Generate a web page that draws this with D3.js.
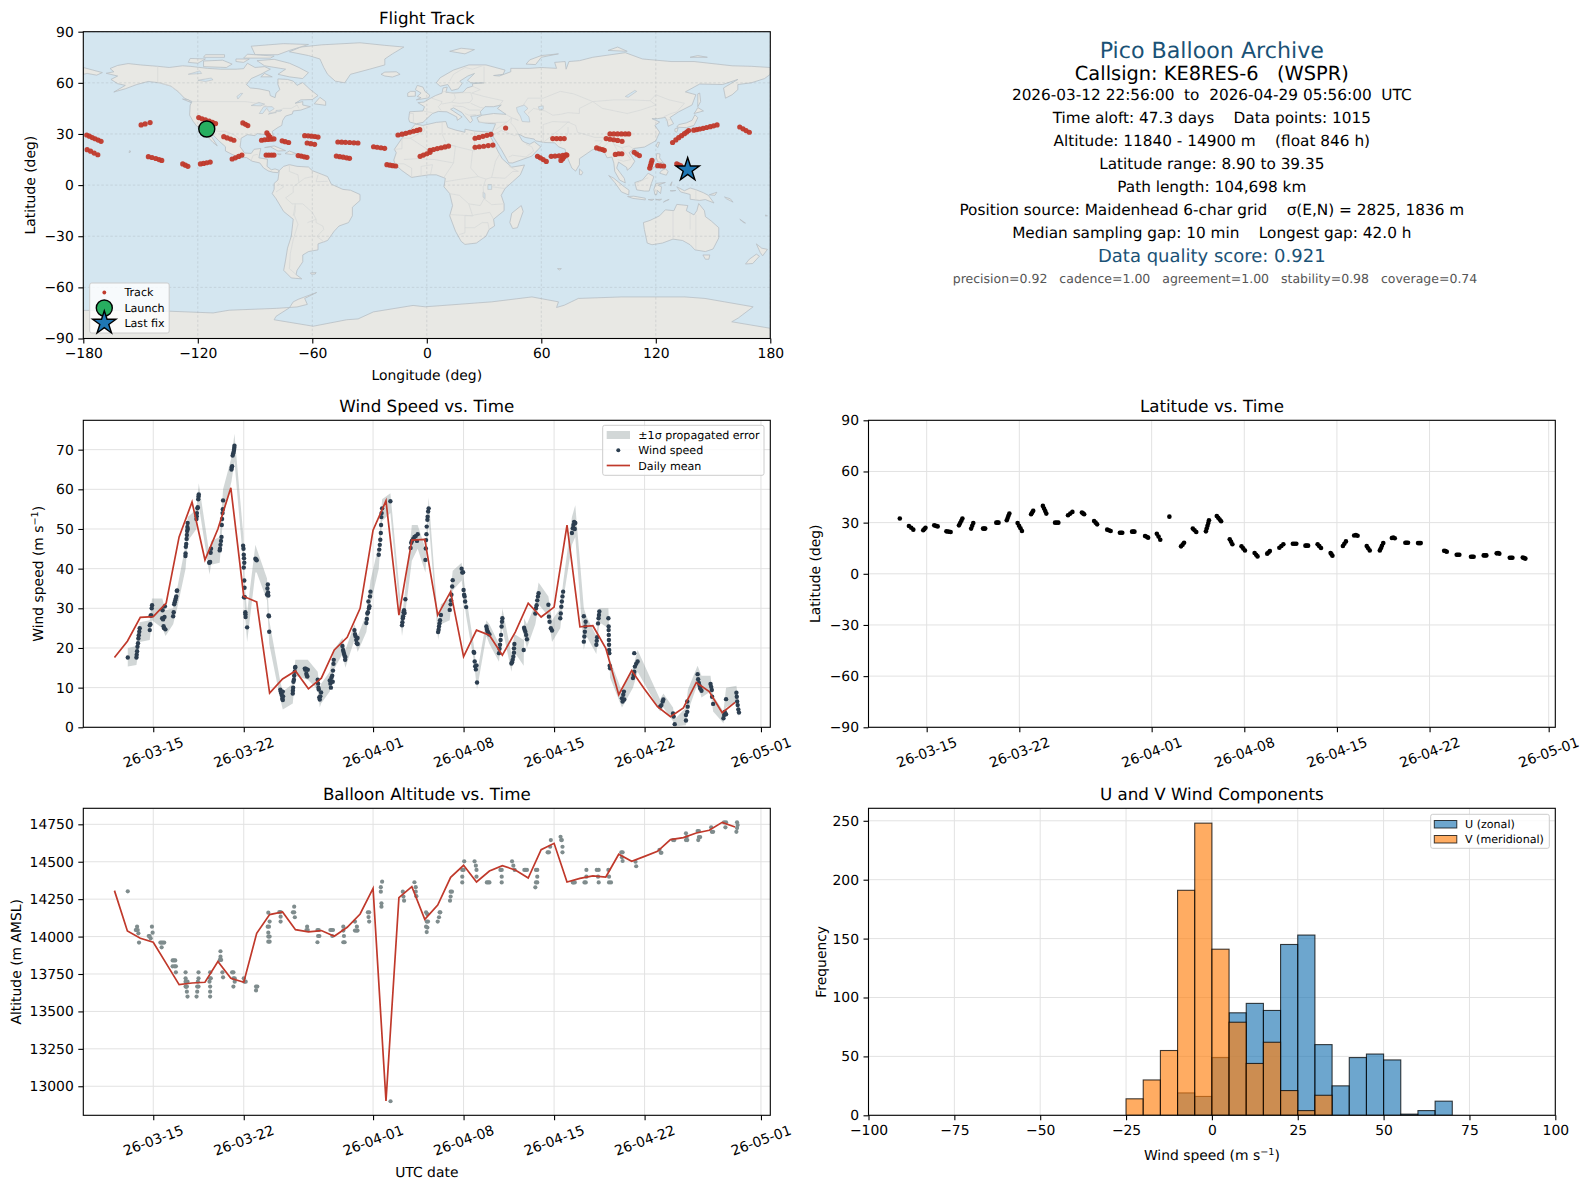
<!DOCTYPE html>
<html><head><meta charset="utf-8">
<script src="https://d3js.org/d3.v7.min.js"></script>
<style>html,body{margin:0;padding:0;background:#fff}svg{display:block}text{font-family:"DejaVu Sans",sans-serif;fill:#000;text-rendering:geometricPrecision}</style>
</head><body><svg id="c" width="1588" height="1189"></svg>
<script>
// ---------- land outlines (lon,lat) ----------
const landPolygons=[
[[-168,65.6],[-164,66.5],[-166,68.4],[-162,70.2],[-156.5,71.3],[-150,70.5],[-141,69.7],[-135,69],[-128,70],[-124,69.7],[-115,68.5],[-108,68],[-100,68],[-96,68.3],[-94,71.5],[-90,69],[-85,69.5],[-82,68],[-87,65],[-92,62.5],[-94.5,59],[-92.5,57],[-88,56.5],[-82.5,55.2],[-82,52.5],[-79.5,51.3],[-79,54],[-77,56],[-78,59],[-78,62.3],[-73,62],[-70,61],[-68,58.5],[-65,60.2],[-61.5,56.5],[-57,52.5],[-60,50.2],[-66,50],[-69,48],[-65,49],[-65,47],[-61,46],[-66,44],[-70,43.5],[-70.5,41.7],[-74,40.5],[-75.5,38],[-76,35],[-78,33.8],[-81,31.5],[-80,27],[-80.5,25.2],[-82,27],[-83,29.2],[-85,29.7],[-89,30.2],[-90,29],[-94,29.6],[-97.3,27.5],[-97.8,22.5],[-95.5,18.8],[-92,18.6],[-90.5,21],[-87,21.5],[-88,16],[-83.5,15.2],[-83.7,11],[-81.5,9],[-79.5,9.5],[-77.3,8.6],[-78,7.3],[-80.5,7.5],[-83,8.3],[-85.5,10],[-87.5,13],[-91.5,14],[-94.5,16.2],[-98,16],[-102,18],[-105.5,20],[-105.5,22.5],[-109,26],[-112.5,30],[-114.7,31.5],[-112,27],[-109.8,23],[-112,25],[-115,28.5],[-117,32.5],[-120.5,34.5],[-122.5,37.5],[-124.3,41],[-124,47],[-123,49],[-127,51],[-130,54.5],[-134,58],[-140,60],[-146,60.8],[-152,59],[-158,56.5],[-164,54.6],[-158,58.5],[-162,59.5],[-165.5,62],[-162,64]],
[[-72,78.2],[-66,81],[-55,82.3],[-35,83.5],[-22,82],[-12,81],[-18,77],[-22,74],[-22,70.5],[-30,68],[-40,65],[-43,60],[-48,61],[-52,65],[-54,69],[-56,74],[-62,76]],
[[-62,66],[-65,62.5],[-72,63.5],[-78,65],[-74,68],[-85,70],[-89,73],[-80,73.8],[-72,71.5],[-67,69]],
[[-117,69.5],[-105,69],[-102,71],[-107,73.3],[-117,72.8]],
[[-90,76.5],[-78,76.5],[-72,79],[-62,82.5],[-75,83],[-92,81.5]],
[[-125,72],[-120,71.5],[-116,74],[-124,74.3]],
[[-96,74.5],[-82,74.5],[-80,75.7],[-94,76.8]],
[[-117,75],[-106,75],[-106,76.5],[-116,76.5]],
[[-100,72.5],[-96,72],[-93,74],[-100,74]],
[[-59,47.7],[-53,46.8],[-53,49],[-56,51.5]],
[[-87,63.5],[-81,63.5],[-85,65.5]],
[[-128,50.5],[-125,50],[-123.5,48.4]],
[[-85,22],[-80,23],[-74,20.2],[-78,20],[-82,22.5]],
[[-74.3,18.5],[-72,20],[-68.5,18.5],[-71,18]],
[[-78.3,18.3],[-76.3,18.2],[-77,17.8]],
[[-156,19],[-155,19.7],[-155.8,20.2]],
[[-77.3,8.6],[-75,11],[-72,12],[-68,11],[-62,10.6],[-60,8.5],[-52,5],[-50,0.5],[-44,-2.5],[-40,-3],[-35,-5.5],[-35,-9],[-39,-13],[-39,-18],[-41,-22],[-46,-24],[-48.5,-27],[-52,-32.5],[-57,-34.5],[-57,-38],[-62,-39],[-65,-41],[-65,-45],[-68,-50],[-68.5,-52.5],[-65.5,-55],[-71,-54.5],[-75,-50],[-74,-44],[-73,-37],[-71,-30],[-70,-20],[-75,-15.5],[-79,-8],[-81,-5],[-80,-2.5],[-80,1],[-78,3],[-77.5,7]],
[[-61,-51.5],[-58,-51.3],[-58.5,-52.2],[-60.5,-52.3]],
[[-6,35.8],[-2,35],[5,36.8],[10,37.3],[11,33.8],[15,32.3],[20,31],[20,32.8],[25,31.7],[32,31.2],[34.3,31.2],[32.5,30],[35.5,24],[37.2,20],[39.5,15.5],[43,12],[44.5,10.5],[51.2,11.8],[49,6],[45,2],[41,-2],[39,-6],[40.5,-11],[40.5,-15],[35,-20],[35.5,-24],[32.7,-26],[31,-30],[26,-34],[20,-34.8],[18,-33],[15,-27],[12,-18],[13.5,-12],[12,-5],[9,-1],[9.7,4],[5,6],[1,6],[-4,5.2],[-8,4.5],[-13,8.5],[-16.5,12],[-17.3,14.7],[-16,19],[-17,21],[-13,27.5],[-9.7,31]],
[[49.5,-12],[50.5,-15.5],[47.5,-25],[45,-25.5],[43.5,-22],[44.5,-16.5]],
[[-9,37],[-9.5,38.8],[-9,43],[-2,43.5],[-1.2,46],[-4.7,48.4],[-1.5,48.7],[2,51],[4.5,52.5],[8,54],[8.5,57],[10.7,57.5],[10,54.5],[14,54],[19,54.5],[21,57],[24,58],[24,59.5],[30,60],[23,60],[21.3,61.5],[25,65.5],[21.5,64],[17.3,61],[18.5,59.5],[16.5,56.5],[13,55.5],[11,59],[7,58],[5,60],[7,63],[14,67.5],[22,70.5],[31,70.5],[41,67.5],[40,65],[35,64.3],[38,64],[44,66.5],[44,68.5],[54,68.5],[60,69],[68,68.5],[67,72],[72.5,72.5],[73,68],[74.5,72.5],[80,73],[87,75],[104,77.7],[113,74],[128,72.5],[140,72.5],[160,70],[170,69.7],[180,69],[180,65],[177,62.5],[170,60],[163,59],[163,56],[160,53],[156.5,51],[155.5,57],[163,62],[155,59],[143,59.3],[135.5,54.7],[141,53],[139,47],[132,43],[127.5,39.7],[129.3,36],[126.5,34.5],[126,37.5],[125,39.7],[121,39],[118,39],[122,37],[119.5,35],[122,31],[120,26],[114,22.3],[108.5,21.5],[106,19],[109,14],[107,10.5],[105,8.7],[104.8,10.3],[100.5,13.5],[99.5,10],[103.5,4],[104,1.3],[101,3],[98.5,8],[98,13],[97,16.5],[94.5,16],[92,21.5],[89,22],[86.5,20.5],[80,15.5],[80,12],[78,8.2],[76,10],[73,18],[72.5,21],[69,22.5],[67,24.8],[61.5,25],[57,26],[56.3,27],[51.5,28],[48,30],[50,26],[51.5,25],[54,24],[56.3,25.5],[59.7,22.5],[55,17],[45,13],[43,13],[39,21],[35,28],[34.3,31.2],[36,36],[32,36.2],[27.3,37],[26.3,39.5],[29,41],[35,42],[41.5,41.5],[37,45],[39,47],[35,46],[33,46],[30.5,46],[28,43],[28.5,41.3],[26,40.7],[23,40.4],[24,38],[22.8,36.5],[19.5,41],[18.5,42.5],[14,45.3],[12.5,44.5],[18.5,40],[16,38],[15.7,40],[10.5,43],[6,43.2],[3,42],[0,39],[-2,36.8],[-5.5,36]],
[[-180,69],[-175,67.5],[-170,66],[-173,64.5],[-178,65.5],[-180,65]],
[[-5.5,50],[1,51.2],[1.5,52.8],[-1,55],[-2,57.5],[-5,58.5],[-6,56],[-3,54],[-5,52],[-3,51.3]],
[[-10,52],[-6,52.2],[-6,55],[-8.5,55],[-10,54]],
[[-24,65],[-22,64],[-18,63.4],[-14,65],[-16,66.5],[-22,66.3]],
[[12,78.5],[20,77],[25,79.5],[18,80.3]],
[[52,71],[57,70.7],[60,75],[69,77],[60,76],[54,73.5]],
[[95,79],[105,78.5],[100,81]],
[[138,75],[147,75],[142,76]],
[[142,46],[143.5,49],[143,54],[142,53.5],[142,49]],
[[140,42],[145,43.5],[142,45.5],[141,43.5]],
[[131,34],[136,33.7],[140,35],[142,39.5],[140.5,41.3],[139,38],[136,36.5],[132,35.5]],
[[130,33],[131.7,33.5],[131,31],[130,31.5]],
[[120.2,23],[121,22],[122,25],[121,25.2]],
[[108.7,19],[110,18.3],[111,19.7],[110,20.1]],
[[120.3,16],[120.5,18.5],[122.2,18.3],[122,16],[124,13],[121,13.7]],
[[122,7],[125.5,5.8],[126.5,8],[125,9.6],[123,8.5]],
[[117.3,8.5],[119.5,11],[118.8,10]],
[[122,10],[125,10],[125,12.3],[123,11.7]],
[[109,1.5],[113,3],[116,7],[119,5],[117.7,1],[116.5,-3.5],[114,-3.5],[110,-2.8]],
[[95.3,5.6],[98,4],[103.5,-1],[106,-3],[105.8,-5.8],[102,-4],[98.5,1.5]],
[[105.2,-6.7],[108.5,-6.5],[114.5,-7.7],[114.5,-8.7],[108,-7.8]],
[[119.5,-5.5],[119,-2.5],[120,1],[125,1.5],[121,0],[123,-1],[122.5,-5],[120.8,-3],[120.5,-5.5]],
[[116,-8.5],[119,-8.3],[118,-9]],
[[120,-8.5],[123,-8.3],[122,-8.9]],
[[124,-10],[127,-8.4],[125,-9.2]],
[[127.5,-3.3],[130.5,-3.2],[128.5,-3.5]],
[[131,-1],[135,-3.3],[138,-1.7],[141,-2.7],[145,-4.5],[147.5,-6],[150.5,-10.5],[146,-8.5],[143,-9],[138,-8.3],[138,-5.5],[133,-4]],
[[127.5,0],[128.5,2],[128,-0.5]],
[[148,-5.7],[152,-4.2],[151,-6]],
[[156,-7],[159,-8],[160.5,-10],[157,-8]],
[[80,9.5],[81.8,7.5],[81,6],[80,6.2]],
[[164,-20],[167,-22.3],[166,-22]],
[[177.5,-17.5],[178.5,-18],[177.5,-18.2]],
[[113.5,-22],[114,-26],[115.5,-34],[118,-35],[123.5,-34],[129,-31.7],[134,-32.5],[138,-35],[140.5,-38],[146,-39],[150,-37.5],[153,-31],[153,-25],[149,-21],[146,-18.5],[145.5,-15],[142.5,-10.8],[141.5,-15],[140,-17.5],[136,-15],[136.8,-12],[131,-11.3],[129.5,-15],[125,-14.5],[122,-18],[117,-20.7]],
[[144.7,-41],[148.3,-41],[147.8,-43.5],[146,-43.5]],
[[172.7,-34.5],[175.5,-37],[178.5,-37.7],[176,-41.5],[174.7,-39.5]],
[[172.7,-40.5],[174.3,-41.7],[170.8,-46],[167,-46.3],[169,-43.5]],
[[68.5,-49],[70.5,-49],[69.5,-49.8]],
[[-180,-90],[-180,-73.5],[-158,-73.5],[-134.6,-74],[-112,-75],[-103.6,-73.4],[-78.6,-72.3],[-68,-71.5],[-62.6,-70],[-64,-66.5],[-57.7,-63],[-67.4,-67],[-70,-68.5],[-72,-72],[-79,-77],[-80,-79],[-59.5,-82.8],[-42,-79],[-36,-78.5],[-28,-74.4],[-7.2,-70.6],[-0.9,-71.4],[34,-68.5],[55.1,-65.6],[69,-68.5],[68,-71.8],[72,-70.5],[79.4,-66.5],[102.2,-65.6],[135.3,-65.6],[145.8,-66.5],[171,-71.4],[163.2,-78],[159.8,-80.2],[180,-84],[180,-90]]
];
// inland waters drawn on top of the land
const waterPolygons=[
[[47,45.5],[51,47],[53,45],[51,43],[53.5,40],[54,37],[50,37.3],[49,40.5],[47.5,43]],
[[58.5,46],[61,46.5],[61,44.5],[59,44]],
[[-92,46.7],[-88,48.5],[-85,47.5],[-87,46.5]],
[[-87.8,42],[-85.5,46],[-81,46],[-80,44.8],[-82.5,43],[-84,45],[-86,42]],
[[-83,41.6],[-79,42.8],[-79,43.8],[-76,44],[-76.5,43.4],[-79,43.2],[-79,42.5],[-82,42.3]],
[[-120,61.5],[-113,62.8],[-112,61.8],[-116,60.8]],
[[-125,65],[-119,67],[-118,65.5]],
[[-99,50.5],[-96.5,53.8],[-97.5,53.8],[-99.5,52]],
[[104,52],[109,55.5],[110,55],[105.5,51.5]],
[[32,-2.5],[34,-2.5],[34,0.3],[32,0.3]],
[[29.5,-4],[30.5,-5],[30.5,-8],[29.5,-7]]
];
// country borders (faint)
const borderLines=[
[[-123,49],[-95,49],[-89,48],[-84,46.5],[-82.5,42.5],[-79,43],[-75,45],[-71,45],[-68,47],[-67,45]],
[[-141,69.7],[-141,60],[-135,58.5],[-130,55]],
[[-117,32.5],[-108,31.5],[-106,31.7],[-101,29.5],[-97.3,26]],
[[-92,14.6],[-91,17.5],[-89,18],[-88.5,17.8]],
[[-72,12],[-72,8],[-67.5,6],[-67,1.5],[-70,-1],[-70,-4.3],[-74,-7.5],[-70.6,-11],[-69,-11],[-69,-15.5],[-69.5,-17.5],[-67.5,-23],[-70,-32],[-71.5,-40],[-72,-49],[-68.5,-52.5]],
[[-60,8.5],[-60,5],[-64,4],[-67,1.5]],[[-57.5,-30],[-54,-26],[-54.5,-24],[-58,-22],[-58,-20],[-60,-16],[-65,-11],[-69,-11]],
[[-79,-4],[-75,-1],[-78,1]],[[-57,6],[-58,2],[-52,2.2]],[[-70,-18],[-69,-12]],
[[-53.4,-33.7],[-57.5,-30.2]],[[-62.5,-22],[-58,-20]],
[[-9,42],[-7,42],[-7,37.2]],[[-1.7,43.4],[3,42.5]],[[2.5,51],[8,49],[7.5,47.6],[6,46],[7.5,43.8]],[[8,54],[9,55],[14.2,54],[15,51],[13,48.6],[8,47.6]],[[14.2,54],[23,54.3],[24,50.5],[22.5,48.5],[17,48],[13,48.6]],[[24,58],[28,56],[23.5,54],[30,52],[40,49.5],[38,47]],[[23,48],[28,45.5],[29.5,45.3]],[[13.5,46.5],[19,46],[22.5,44],[28,44]],[[20,42],[22,41],[26,41.5]],[[30,60],[30,69.5]],[[20,69],[24,68],[29,70]],[[12,61],[14,65],[20,69]],
[[27,36.8],[36,36.7],[42,37],[44.5,39.5],[41.5,41.5]],[[36,32.5],[42,37]],[[35,29.5],[39,32],[46,29],[48,30]],[[52,16.5],[45,17.5],[43,16.5]],[[52,16.5],[56,20],[55,22.5],[52,24]],[[46,39],[48,38],[44.5,39.5],[44,36.5],[46,34],[48,30]],[[61,25],[61,31],[61,35.5],[66,37.3],[71,37],[75,37]],[[61,25],[66,29.5],[70,33],[74,37]],[[50,46],[53,51],[61,51],[70,55],[77,53.5],[87,49]],[[53,42],[56,45],[62,43.5],[66,41],[70,41.5],[74,42.5],[80,42],[80,45],[87,49]],[[87,49],[98,50],[107,50],[117,49.5],[120,53],[127,50],[135,48],[131,43]],[[87,49],[92,45],[105,42],[112,44],[120,47],[117,49.5]],[[74,37],[78,35],[79,31],[88,28],[97,28],[98,24],[102,22],[106,23],[108,21.5]],[[74,34],[74,30],[71,27],[70,24]],[[88,26],[92,26],[89,22]],[[92,21.5],[95,25],[97,28]],[[98,24],[100,20],[98,16]],[[102,22],[105,18],[107,15],[103,14],[100,15]],[[124,40],[128,42],[131,43]],[[125,38],[128,38.5]],[[141,-2.7],[141,-9]],[[110,1],[115,4],[116,4.2]],
[[-8.6,27.5],[-1,32],[-2,35]],[[-17,21],[-13,21.3],[-13,27.5],[-8.6,27.5],[3,19],[12,23.5],[25,20],[25,31.7]],[[-12,15],[-5,15.5],[4,15],[14,13],[15,23],[12,23.5]],[[8,37],[8,30],[10,25]],[[25,22],[37,22]],[[24,20],[23,10],[27,5],[31,3.5],[34,4.5],[36,14],[38,18]],[[34,4.5],[41,4],[45,8],[48,8],[43,11]],[[14,13],[9,4.5]],[[3,12],[2,6.5]],[[-3,5.5],[-3,11],[3,12]],[[-8,4.5],[-8,10],[-12,12.5],[-16.5,12.5]],[[9.7,2],[18,3.5],[27,5]],[[12,-5],[17,-6],[22,-11],[28,-12],[30,-8],[29.5,-1],[31,3.5]],[[34,-1],[41,-2]],[[30,-8],[34,-11.5],[40.5,-11]],[[12,-17.3],[24,-18],[25,-17.5],[33,-16],[35,-20]],[[24,-18],[20,-18],[20,-28],[17,-29]],[[20,-25],[25,-25],[29,-22],[32,-22],[32.7,-26]],[[22,-11],[24,-18]],
[[129,-31.7],[129,-15]],[[141,-38],[141,-17.5]],[[138,-26],[138,-16.5]]
];
// ---------- flight track (lon,lat) ----------
const trackLon=[-178.2,-176.8,-175.3,-173.8,-172.2,-170.7,-178,-176.2,-174.3,-172.4,-149.7,-147.6,-145,-145.9,-144,-142,-140.3,-138.9,-127.9,-126.5,-125.2,-118.6,-117,-115.3,-113.5,-119.5,-117.8,-116,-114,-112.3,-110.7,-106.4,-104.6,-102.8,-101.1,-96.4,-95,-93.8,-102,-100.3,-98.6,-96.9,-83.8,-83,-82.1,-86.6,-85,-83.3,-81.7,-80.1,-84.2,-82.8,-81.4,-80.1,-75.8,-74.2,-72.4,-64,-62.2,-60.4,-58.6,-57,-62.7,-60.8,-58.8,-67.4,-65.8,-64.2,-62.8,-46.6,-44.6,-42.6,-40.4,-38.2,-36.1,-47.4,-45.6,-43.8,-42,-40.5,-27.9,-26,-24,-22.1,-20.9,-19.3,-17.8,-16.3,-15.1,-13,-11,-9,-7,-5.2,-3.7,-3.5,-1.8,0,1.7,1.7,3.5,5.5,7.5,9.5,11.4,25.3,27.3,29.4,31.5,33.6,25.3,27.5,29.8,32.2,34.6,41.3,66,68,70,72,58,59.5,61,62.6,65.2,67.2,69.3,71.3,73.4,70.3,71.2,72,72.9,89,90.5,92,93,96,98,100,102,104,105.8,94,96,98,100,102.3,98.8,100.5,102.2,108.7,110,111.4,118,117.6,117.2,116.8,121,122.5,124.1,131,132,133,128.8,130.5,132,133.5,135,136.2,137.2,139.9,141.5,143,144.8,146.6,148.5,150.3,152.1,164,165.7,167.3,169];
const trackLat=[29.4,28.7,27.9,27.2,26.4,25.7,20.8,19.9,18.8,17.8,35.3,35.9,36.7,16.7,16.2,15.6,15,14.5,12.4,11.7,11,12.4,12.7,13.1,13.5,39.6,38.9,38.3,37.6,36.8,36.1,28.4,27.7,27,26.3,36.5,35.7,34.9,15.3,16,16.8,17.6,30.6,29.4,28.2,26.3,26.6,26.8,26.9,27.1,17.6,17.6,17.6,17.6,26,25.5,25,29,28.9,28.7,28.5,28.2,24.7,24.3,23.9,17.3,17,16.6,16.3,25.3,25.2,25.1,25,24.8,24.7,17,16.7,16.4,16,15.7,22.5,22.2,21.9,21.6,12,11.7,11.4,11.2,29.4,29.9,30.4,31,31.6,32.1,32.5,16.9,17.6,18.4,19.2,20.4,20.9,21.4,21.9,22.4,22.9,27.5,28,28.6,29.2,29.8,22.2,22.5,22.8,23.2,23.5,33.5,27.3,27.3,27.3,27.3,16.9,16,15,13.9,16.9,17,17.2,17.4,17.6,14.5,15.4,16.6,17.8,21.8,21.3,20.9,20.4,30,30,30,30,30,30,27.3,26.9,26.6,26.2,25.7,18,18.4,18.4,19.2,18.2,17.3,14.5,13,11.5,10,11.4,11.3,11.2,12.4,11.9,11.4,25,26.5,27.8,29,30.2,31.1,32,32.2,32.6,32.9,33.3,33.8,34.3,34.8,35.3,34.1,33,32,31];
const launchPoint=[-115.3,32.9];
const lastFix=[136.7,9];
// ---------- daily means (one per UTC day from 2026-03-12) ----------
const dayZero=Date.UTC(2026,2,12);
const dailyWind=[17.6,21.7,27.7,27.9,31.3,48,56.8,42.2,50,60.4,33,31.6,8.6,12.2,14.2,9.7,12.4,19.5,22.7,30,49.7,57.1,28.3,47.2,47.4,28.3,34.2,17.8,24.5,23.2,18.2,24,31.3,27.8,30.3,51,25.3,25.6,19.9,8.2,14.3,9.6,5.2,2.7,4.9,11.3,9,3.7,6.3];
const dailyAlt=[14307,14037,13989,13962,13821,13679,13690,13695,13833,13721,13695,14022,14147,14164,14046,14031,14040,14002,14062,14151,14322,12902,14260,14334,14115,14211,14396,14476,14365,14438,14474,14445,14391,14581,14623,14365,14389,14405,14398,14550,14503,14536,14570,14648,14661,14692,14710,14763,14732];
// ---------- wind speed samples: day since 03-12, m/s ----------
const windDay=[1.03,1.7,1.72,1.75,1.78,1.82,1.85,1.88,1.92,1.95,2.73,2.73,2.78,2.8,2.85,2.88,2.91,3.69,3.72,3.76,3.8,3.84,3.87,3.9,3.94,4.54,4.58,4.62,4.66,4.7,4.74,4.78,4.82,4.85,5.49,5.5,5.52,5.55,5.58,5.6,5.62,5.64,5.66,5.67,6.34,6.36,6.38,6.42,6.44,6.48,6.5,6.52,7.33,7.36,7.4,7.44,7.47,8.14,8.16,8.2,8.24,8.28,8.3,8.32,8.36,8.38,8.4,9.05,9.07,9.1,9.14,9.18,9.22,9.25,9.27,9.28,9.95,9.98,10,10.02,10.04,10,10.04,10.06,10.02,10.08,10.12,10.13,10.14,10.26,10.9,10.95,11,11.8,11.83,11.86,11.88,11.9,11.92,11.95,11.97,12.83,12.86,12.9,12.95,12.98,13.02,13.04,13.02,13.79,13.8,13.82,13.84,13.88,13.9,13.94,13.97,13.99,14.72,14.76,14.8,14.84,14.88,14.92,14.95,15.72,15.75,15.78,15.8,15.84,15.88,15.92,15.98,16.65,16.7,16.74,16.78,16.84,16.88,16.9,16.94,16.96,17.63,17.68,17.72,17.76,17.8,17.84,17.86,18.56,18.6,18.64,18.7,18.74,18.8,18.81,19.48,19.52,19.56,19.6,19.64,19.68,19.72,19.76,19.8,20.44,20.48,20.52,20.56,20.6,20.62,20.64,20.66,20.7,21.34,22.24,22.27,22.3,22.33,22.36,22.4,22.44,22.5,22.9,22.95,23,23.1,23.2,23.3,23.4,23.45,24.05,24.08,24.1,24.13,24.15,24.2,24.22,24.26,24.3,25.03,25.07,25.1,25.14,25.18,25.25,25.93,26,26.03,26.06,26.12,26.16,26.85,26.9,26.96,27,27.04,27.08,27.12,27.2,27.78,27.82,27.86,27.9,27.95,28,28.04,28.76,28.8,28.84,28.88,28.92,29,29.74,29.78,29.82,29.86,29.9,29.94,29.97,30,30.7,30.75,30.8,30.85,30.9,30.9,30.93,31.65,31.68,31.72,31.78,31.84,31.9,32.55,32.6,32.65,32.7,32.75,32.8,33.56,33.6,33.65,33.75,33.84,34.48,34.52,34.56,34.6,34.65,34.7,35.38,35.45,35.5,35.55,35.64,35.6,36.3,36.34,36.38,36.42,36.44,36.3,37.27,37.3,37.33,37.4,37.44,37.47,37.5,38.2,38.22,38.22,38.23,38.24,38.25,38.26,38.27,38.3,38.33,39.25,39.3,39.35,39.4,39.43,40.1,40.15,40.2,40.25,40.35,40.46,40.2,42.2,42.3,42.4,42.45,43.2,43.25,43.33,44.2,44.2,44.3,44.33,44.3,45.1,45.14,45.2,45.25,45.3,45.4,46.1,46.15,46.2,46.22,46.3,47.1,47.15,47.2,47.3,47.3,48.1,48.13,48.16,48.2,48.25,48.3];
const windSpeed=[17.6,17.6,18.3,19.2,20.3,21.2,22.4,23.2,24.1,25,24.5,25.7,26,28.2,28.2,30,30.8,27.5,29.5,27.2,25.5,25,27.8,30.5,24.7,28,29,31,31.5,32,32.5,33,34.4,34.5,43.2,43.8,45.5,46.2,47.5,48.5,49.5,50.5,51.5,50,52.5,53.2,54,55.2,55.5,57.5,58.2,58.7,41.5,41.6,41.7,44,45,44.6,45,46,47,48,51,52.5,54,55,57.2,65,65.5,65.8,68.5,69,69.5,70,70.5,71,45.8,45,43.5,42.6,41.5,40.3,37,35.2,32.8,32.8,29,28.5,27.8,25.2,42.5,42.3,42.1,33.5,35,36,34,33.2,28.2,28,24.1,9.5,9,8.6,8,7.2,6.9,7.8,9,8.5,9.2,10,11.5,12,13,14,15,15.2,14.8,14.5,14.8,13.5,13,12.8,14.5,12,11,10,9.5,7.5,7,7.8,8.8,11.8,11,10,12.5,13,11.5,14.3,16,17,20.5,19.5,19,18.5,18,17,17.7,24.5,23.5,23,22,21.2,22.5,21,26.3,27.3,28.7,29,31.7,30,30.5,33,34.2,43.5,44.8,46,47.3,49,51,53,54,55.2,57,25.7,26.5,27.5,28,29,29.5,28.8,32.3,45.2,46.5,47,47.5,48,48.2,47,48.7,42.2,45.1,47.2,48.7,50.6,52.3,53.1,54.4,55.2,24,24.6,25.4,26.2,27,28.3,29.6,31,32,33.4,35.5,37.1,40,39,39.1,34.6,33.4,33,31.7,30.3,19,18.8,16.6,15.4,14.6,15.6,11.3,25.4,24.8,24.3,24,23.7,23.4,18.7,19.8,20.8,22,23.3,25.4,26.6,27.5,16.1,16.4,17,17.8,18.8,19.9,21,19.5,25.1,24.6,24.1,23.3,22.2,28.7,30,30.8,32,33,33.8,30.9,27.9,26.6,25,24.4,27.5,28.7,30.4,31.7,33,34.2,49,50.2,51,51.8,51.5,50,21.6,22.9,24.1,25.4,26.6,28,20.8,21.8,22.7,26.2,27.5,28.3,29.2,27.5,25.4,24.5,23.3,22,20.8,19.5,18.7,15.5,14.9,7.3,6.5,8.2,9,7,12.4,13.2,14,15.3,16,16.6,18.7,5.2,5.6,6.5,7,3.5,2.7,0.8,1.7,3.1,3.9,5.2,6.5,13.4,12.1,11.2,10.5,9.8,9.2,10.9,10.2,9.4,7.7,5.9,2.3,3.1,3.9,3.3,7.1,8.7,7.7,6.5,5.6,4.5,3.7];
// ---------- propagated error envelope ----------
const bandDay=[1.03,1.7,1.95,2.73,2.9,3.7,3.95,4.54,4.85,5.5,5.67,6.34,6.52,7.35,7.47,8.14,8.4,9.05,9.28,9.95,10.08,10.26,10.9,11,11.8,11.97,12.83,13.02,13.79,13.99,14.95,15.72,15.88,15.98,16.65,16.96,17.63,17.86,18.56,18.81,19.48,19.8,20.44,20.7,21.34,22.24,22.5,23,23.45,24.05,24.3,25.03,25.25,25.93,26.16,26.85,27.2,27.78,28.04,28.76,29,29.74,30,30.7,30.93,31.65,31.68,31.9,32.55,32.8,33.56,33.84,34.48,34.7,35.38,35.64,36.3,36.5,37.27,37.5,38.2,38.33,39.25,39.43,40.1,40.46,42.2,42.45,43.2,43.33,44.2,44.35,45.1,45.4,46.1,46.3,47.1,47.3,48.1,48.3];
const bandLow=[15.3,15.7,21.5,22,27,25,23,26,30,40,47,50,56,38.5,41,41.5,53,62,67,42,29,21.5,39,39,32,21,7,4.5,6,13,12,9.5,5,6,9,14.5,18.5,15,22,19,24,31,40,52,54,23,29,42,45,39,52,22,26,27,34.5,37,28,17,9.5,23,21,16.5,25,14,19,15.5,23,20,26,31,28,21.5,25,32,46,48,19.5,23,18.5,26.5,25,12.5,5,6,10,14,4,5,1.5,0.2,0.5,4,11,7.5,9,4,1,5,6.5,2.5];
const bandHigh=[20,20.5,26.5,27,32.5,32.5,29.5,30,35,46,53,55,61.5,43.5,47,48,60,68,74,49,36,29,46,45,37.5,27,11.5,9,11,17,17,14,9.5,11,14,19.5,22.5,19.5,26,23,28.5,37,46,57.5,59,28,35,51,51,45,58,26.5,31,32.5,39.5,41.5,33,21,13.5,27,26,21,30,18.5,23.5,22,27.5,26,31,36.5,33,27,30,36.5,53,56,30,28,23,30,30,17,9,11,15,19.5,7,8.5,5,2,5,9.5,15.5,13,13,8,4,10,10.5,6];
// ---------- altitude samples ----------
const altDay=[1.03,1.65,1.7,1.75,1.85,1.9,1.8,2.65,2.72,2.9,2.95,2.8,3.55,3.65,3.75,3.65,3.85,4.5,4.6,4.7,4.5,4.65,4.75,4.75,5.5,5.5,5.6,5.65,5.5,5.55,5.6,5.6,5.65,5.5,6.5,6.5,6.45,6.4,6.5,6.4,6.35,7.4,7.4,7.35,7.4,7.4,7.4,7.45,8.2,8.2,8.15,8.25,8.35,8.4,9.1,9.2,9.2,9.3,9.2,9.3,10,10.05,10.15,10.95,11.05,10.95,11.9,12,11.85,11.95,11.9,11.9,12,11.9,12,12.75,12.85,12.85,12.85,13.9,13.8,13.9,13.95,14.9,14.85,14.95,15.7,15.8,15.75,15.85,15.7,16.7,16.8,16.9,16.85,17.7,17.7,17.75,17.7,17.8,18.6,18.6,18.7,18.75,18.8,19.6,19.7,19.65,19.7,20.6,20.6,20.7,20.65,20.65,21.35,22.3,22.35,22.4,23.2,23.3,23.3,23.35,24.1,24.15,24.1,24.15,24.2,24.25,24.2,25,25.1,25.2,25.15,25.95,26,26,26.1,26.9,26.9,26.9,27.05,27,27.85,27.95,28,28,28.8,28.9,29,29.85,29.95,29.95,29.95,30.75,30.85,30.95,31.7,31.8,31.9,32.6,32.7,32.6,32.55,32.7,32.7,33.5,33.6,33.7,33.75,34.5,34.55,34.65,34.65,34.6,35.45,35.5,35.6,36.35,36.45,36.5,36.5,37.3,37.45,37.4,37.45,38.2,38.25,38.25,38.4,39.2,39.3,39.25,39.3,40.3,40.35,42.15,42.25,42.3,43.2,43.3,44.2,44.25,44.2,44.3,45.1,45.2,45.2,45.15,45.3,46.15,46.2,46.3,47.15,47.3,47.25,48.15,48.2,48.15,48.1];
const altMetres=[14302,14044,14044,14066,14022,13960,14044,14004,14004,14066,14026,13988,13960,13960,13960,13928,13960,13841,13841,13841,13801,13801,13801,13761,13761,13699,13699,13699,13666,13666,13632,13666,13599,13721,13761,13721,13699,13666,13666,13632,13599,13761,13721,13699,13666,13632,13599,13721,13902,13866,13844,13844,13761,13728,13761,13761,13721,13699,13666,13721,13721,13699,13699,13666,13666,13640,14160,14100,14066,14066,14026,14000,14000,13966,13966,14164,14164,14133,14100,14200,14162,14162,14129,14066,14044,14044,14044,14044,14004,14004,13962,14044,14044,14044,14004,14066,14040,14004,13962,13962,14100,14040,14040,14066,14040,14162,14162,14130,14100,14300,14330,14367,14222,14200,12900,14300,14267,14240,14363,14330,14300,14270,14162,14100,14066,14030,14150,14100,14060,14100,14129,14162,14162,14240,14267,14300,14300,14362,14400,14445,14503,14445,14503,14474,14445,14400,14362,14362,14362,14445,14445,14400,14362,14503,14474,14445,14445,14445,14445,14445,14400,14362,14329,14445,14362,14563,14563,14600,14645,14667,14645,14600,14563,14645,14362,14362,14362,14362,14362,14445,14400,14445,14445,14400,14362,14445,14400,14362,14362,14563,14563,14530,14505,14500,14470,14580,14560,14560,14645,14645,14690,14665,14645,14645,14705,14705,14665,14645,14665,14730,14700,14700,14763,14763,14730,14763,14745,14725,14700];
// ---------- latitude samples ----------
const latDay=[0.97,1.66,1.83,1.99,2.74,2.83,2.91,3.57,3.7,3.83,4.49,4.65,4.81,5.44,5.53,5.62,5.7,6.36,6.44,6.52,7.26,7.34,7.42,8.26,8.35,8.43,9.05,9.12,9.18,9.25,9.87,9.98,10.09,10.2,10.89,10.97,11.05,11.78,11.87,11.96,12.04,12.7,12.83,12.95,13.68,13.85,14.01,14.73,14.82,14.9,15.65,15.77,15.88,16.64,16.77,16.9,17.6,17.69,17.78,18.52,18.61,18.7,19.5,19.62,19.73,20.39,20.52,20.65,21.34,22.22,22.34,22.45,23.11,23.24,23.37,24.1,24.16,24.22,24.28,24.33,24.92,25.03,25.14,25.25,25.9,26,26.1,26.79,26.92,27.05,27.78,27.89,28,28.73,28.83,28.93,29.65,29.8,29.95,30.67,30.8,30.93,31.62,31.72,31.82,32.54,32.67,32.8,33.52,33.59,33.66,34.45,34.56,34.68,35.3,35.43,35.56,36.25,36.36,36.48,37.24,37.32,37.4,37.5,38.15,38.26,38.37,39.17,39.27,39.37,40.13,40.23,40.33,42.1,42.2,42.3,43.05,43.15,43.25,44.13,44.23,44.33,45.09,45.19,45.29,46.07,46.17,46.27,47.06,47.16,47.26,48.04,48.14,48.24];
const latDeg=[32.4,28,27,25.9,25.5,26.2,27,28.4,28.1,27.8,24.9,24.7,24.5,28.4,29.8,31.1,32.4,26.5,28.2,29.8,26.5,26.5,26.5,30,30,30,31.4,32.7,34,35.3,29.8,28.2,26.7,25.1,34.9,35.9,36.9,39.8,38.3,36.8,35.3,30,30,30,34.3,35.3,36.3,35.9,35.4,34.9,31,30,29,25.9,25.5,25.1,24.1,24.1,24.1,24.7,24.7,24.7,22.2,21.7,21.2,23.5,21.8,20,33.5,16.1,17.1,18.2,26.5,25.5,24.5,24.9,26.5,28.2,29.8,31.4,33.9,32.9,31.8,30.8,20.2,18.8,17.3,16.1,14.9,13.7,12.2,11.2,10.2,11.8,12.5,13.3,15.3,16.3,17.3,17.6,17.6,17.6,16.5,16.5,16.5,17.3,16.2,15.1,12.2,11.4,10.6,16.3,17.6,19,22.5,22.7,22.3,16.3,15,13.7,13.7,15,16.4,18,21,21.2,20.8,18.2,18.2,18.2,18,18,18,13.5,13.3,12.9,11.2,11.2,11.2,10,10,10,10.8,10.8,10.8,12,12.2,11.8,9.4,9.4,9.4,9.6,9.2,8.9];
// ---------- histogram ----------
const histEdges=[-25,-20,-15,-10,-5,0,5,10,15,20,25,30,35,40,45,50,55,60,65,70];
const uCounts=[0,0,0,19,16,49,87,95,89,145,153,60,25,49,52,47,1,4,12];
const vCounts=[14,30,55,191,248,141,79,44,62,21,4,17,0,0,0,0,0,0,0];
// ---------- tick labels and texts ----------
const lonTicks=[-180,-120,-60,0,60,120,180];
const latTicks=[-90,-60,-30,0,30,60,90];
const windTicks=[0,10,20,30,40,50,60,70];
const altTicks=[13000,13250,13500,13750,14000,14250,14500,14750];
const freqTicks=[0,50,100,150,200,250];
const speedTicks=[-100,-75,-50,-25,0,25,50,75,100];
const dateTicks=["2026-03-15","2026-03-22","2026-04-01","2026-04-08","2026-04-15","2026-04-22","2026-05-01"];
const infoLines=[
 ["Pico Balloon Archive",22.2,"#1a5276",50.5],
 ["Callsign: KE8RES-6   (WSPR)",19.4,"#000",73.5],
 ["2026-03-12 22:56:00  to  2026-04-29 05:56:00  UTC",15.3,"#000",94.5],
 ["Time aloft: 47.3 days    Data points: 1015",15.3,"#000",117.5],
 ["Altitude: 11840 - 14900 m    (float 846 h)",15.3,"#000",140.5],
 ["Latitude range: 8.90 to 39.35",15.3,"#000",163.5],
 ["Path length: 104,698 km",15.3,"#000",186.5],
 ["Position source: Maidenhead 6-char grid    σ(E,N) = 2825, 1836 m",15.3,"#000",209.5],
 ["Median sampling gap: 10 min    Longest gap: 42.0 h",15.3,"#000",232.5],
 ["Data quality score: 0.921",18,"#1a5276",256.7]
];
const scoreLine="precision=0.92   cadence=1.00   agreement=1.00   stability=0.98   coverage=0.74";

// ---------- drawing ----------
const svg=d3.select("#c");
svg.append("rect").attr("width",1588).attr("height",1189).attr("fill","#fff");
const RED="#c0392b",NAVY="#2c3e50",GREY="#7f8c8d",GRID="#e2e2e2",BLUE="#1f77b4",ORANGE="#ff7f0e";
const L={l:83.3,r:770.3},R={l:868.5,r:1555.3};
const T1={t:31.7,b:338.5},T2={t:420.3,b:727.3},T3={t:808.3,b:1115.3};
const toDate=d=>new Date(dayZero+d*864e5);
const tickDates=dateTicks.map(s=>new Date(s+"T00:00:00Z"));
const fmtDate=d3.utcFormat("%y-%m-%d");
const minusFmt=v=>String(v).replace("-","\u2212");
let clipId=0;

function panel(col,row,x,y,xt,yt,opt={}){
  const g=svg.append("g");
  const id="clip"+(++clipId);
  g.append("clipPath").attr("id",id).append("rect").attr("x",col.l).attr("y",row.t).attr("width",col.r-col.l).attr("height",row.b-row.t);
  const under=g.append("g").attr("clip-path",`url(#${id})`);
  if(opt.background) opt.background(under);
  const grid=under.append("g").attr("stroke",opt.gridColor||GRID).attr("stroke-width",opt.gridWidth||1).attr("stroke-dasharray",opt.gridDash||null).attr("opacity",opt.gridOpacity||1);
  xt.forEach(v=>grid.append("line").attr("x1",x(v)).attr("x2",x(v)).attr("y1",row.t).attr("y2",row.b));
  yt.forEach(v=>grid.append("line").attr("y1",y(v)).attr("y2",y(v)).attr("x1",col.l).attr("x2",col.r));
  const plot=g.append("g").attr("clip-path",`url(#${id})`);
  return {g,plot,finish(){
    g.append("rect").attr("x",col.l).attr("y",row.t).attr("width",col.r-col.l).attr("height",row.b-row.t).attr("fill","none").attr("stroke","#000").attr("stroke-width",1.1);
    const ax=d3.axisBottom(x).tickValues(xt).tickSize(5).tickPadding(4.5).tickSizeOuter(0).tickFormat(opt.xFmt||minusFmt);
    const gx=g.append("g").attr("transform",`translate(0,${row.b})`).call(ax);
    const ay=d3.axisLeft(y).tickValues(yt).tickSize(5).tickPadding(4.5).tickSizeOuter(0).tickFormat(minusFmt);
    const gy=g.append("g").attr("transform",`translate(${col.l},0)`).call(ay);
    [gx,gy].forEach(a=>{a.select(".domain").remove();a.selectAll("line").attr("stroke","#000").attr("stroke-width",1.1);a.selectAll("text").attr("font-size",13.9).attr("font-family","DejaVu Sans").attr("fill","#000");});
    if(opt.rotate){gx.selectAll("text").attr("text-anchor","middle").attr("dy",0).attr("y",0).attr("transform","translate(0,26) rotate(-20)").attr("dominant-baseline","middle");}
  }};
}
function label(t,x,y,size,attrs={}){
  const e=svg.append("text").attr("x",x).attr("y",y).attr("font-size",size).attr("text-anchor",attrs.anchor||"middle").text(t);
  if(attrs.fill)e.attr("fill",attrs.fill).style("fill",attrs.fill);
  return e;
}
function title(t,col,row){label(t,(col.l+col.r)/2,row.t-8,16.7);}
function yLabel(parts,x,cy){
  const e=svg.append("text").attr("transform",`translate(${x},${cy}) rotate(-90)`).attr("text-anchor","middle").attr("font-size",13.9);
  if(typeof parts==="string")e.text(parts);else{
    e.append("tspan").text(parts[0]);e.append("tspan").attr("font-size",9.7).attr("dy",-5).text(parts[1]);e.append("tspan").attr("dy",5).text(parts[2]);
  }
}
function legendBox(x0,y0,w,h){svg.append("rect").attr("x",x0).attr("y",y0).attr("width",w).attr("height",h).attr("rx",2).attr("fill","#fff").attr("fill-opacity",0.8).attr("stroke","#ccc").attr("stroke-width",1);}

// --- map ---
{
  const x=d3.scaleLinear().domain([-180,180]).range([L.l,L.r]);
  const y=d3.scaleLinear().domain([-90,90]).range([T1.b,T1.t]);
  const path=d3.line().x(d=>x(d[0])).y(d=>y(d[1]));
  const p=panel(L,T1,x,y,lonTicks,latTicks,{gridColor:"#9aa0a4",gridWidth:0.7,gridDash:"2.5,2",gridOpacity:0.4,background(u){
    u.append("rect").attr("x",L.l).attr("y",T1.t).attr("width",L.r-L.l).attr("height",T1.b-T1.t).attr("fill","#d4e6f1");
    u.selectAll("path.land").data(landPolygons).join("path").attr("class","land").attr("d",d=>path(d)+"Z").attr("fill","#e8e8e4").attr("stroke","#b8bfc4").attr("stroke-width",0.8);
    u.selectAll("path.water").data(waterPolygons).join("path").attr("class","water").attr("d",d=>path(d)+"Z").attr("fill","#d4e6f1").attr("stroke","#b8bfc4").attr("stroke-width",0.6);
    u.selectAll("path.border").data(borderLines).join("path").attr("class","border").attr("d",path).attr("fill","none").attr("stroke","#d6d8d8").attr("stroke-width",0.7);
  }});
  p.plot.selectAll("circle.track").data(trackLon.map((v,i)=>[v,trackLat[i]])).join("circle").attr("class","track").attr("cx",d=>x(d[0])).attr("cy",d=>y(d[1])).attr("r",2.6).attr("fill",RED).attr("opacity",0.95);
  p.plot.append("circle").attr("cx",x(launchPoint[0])).attr("cy",y(launchPoint[1])).attr("r",8).attr("fill","#27ae60").attr("stroke","#000").attr("stroke-width",1.4);
  const star=d3.symbol().type(d3.symbolStar).size(170);
  p.plot.append("path").attr("d",star()).attr("transform",`translate(${x(lastFix[0])},${y(lastFix[1])})`).attr("fill",BLUE).attr("stroke","#000").attr("stroke-width",1.4);
  p.finish();
  title("Flight Track",L,T1);
  label("Longitude (deg)",(L.l+L.r)/2,379.5,13.9);
  yLabel("Latitude (deg)",35,(T1.t+T1.b)/2);
  legendBox(89.7,283,79.5,50);
  svg.append("circle").attr("cx",104.3).attr("cy",292.5).attr("r",1.9).attr("fill",RED);
  svg.append("circle").attr("cx",104.3).attr("cy",308).attr("r",8).attr("fill","#27ae60").attr("stroke","#000").attr("stroke-width",1.4);
  svg.append("path").attr("d",star()).attr("transform","translate(104.3,323)").attr("fill",BLUE).attr("stroke","#000").attr("stroke-width",1.4);
  [["Track",296],["Launch",311.5],["Last fix",327]].forEach(d=>label(d[0],124.4,d[1],11.1,{anchor:"start"}));
}
// --- info ---
infoLines.forEach(d=>{label(d[0],1211.8,d[3],d[1],{fill:d[2]}).attr("dominant-baseline","central").style("white-space","pre");});
label(scoreLine,1215,278,12.5,{fill:"#555"}).attr("dominant-baseline","central").style("white-space","pre");
// --- wind ---
const xWide=d3.scaleUtc().domain([new Date("2026-03-09T14:10:00Z"),new Date("2026-05-01T17:20:00Z")]).range([L.l,L.r]);
{
  const y=d3.scaleLinear().domain([0,77.4]).range([T2.b,T2.t]);
  const p=panel(L,T2,xWide,y,tickDates,windTicks,{rotate:true,xFmt:fmtDate});
  const area=d3.area().x(d=>xWide(toDate(d))).y0((d,i)=>y(bandLow[i])).y1((d,i)=>y(bandHigh[i]));
  p.plot.append("path").attr("d",area(bandDay)).attr("fill",GREY).attr("fill-opacity",0.35);
  p.plot.selectAll("circle").data(windDay).join("circle").attr("cx",d=>xWide(toDate(d))).attr("cy",(d,i)=>y(windSpeed[i])).attr("r",2.2).attr("fill",NAVY);
  const line=d3.line().x((d,i)=>xWide(toDate(i))).y(d=>y(d));
  p.plot.append("path").attr("d",line(dailyWind)).attr("fill","none").attr("stroke",RED).attr("stroke-width",1.7);
  p.finish();
  title("Wind Speed vs. Time",L,T2);
  yLabel(["Wind speed (m s","\u22121",")"],43,(T2.t+T2.b)/2);
  legendBox(602.7,425.3,161.3,50);
  svg.append("rect").attr("x",606.7).attr("y",431).attr("width",23.3).attr("height",8).attr("fill",GREY).attr("fill-opacity",0.35);
  svg.append("circle").attr("cx",618.3).attr("cy",450.3).attr("r",2).attr("fill",NAVY);
  svg.append("line").attr("x1",606.7).attr("x2",630).attr("y1",465.5).attr("y2",465.5).attr("stroke",RED).attr("stroke-width",1.7);
  [["\u00b11\u03c3 propagated error",439],["Wind speed",454.3],["Daily mean",470]].forEach(d=>label(d[0],638.3,d[1],11.1,{anchor:"start"}));
}
// --- latitude ---
{
  const x=d3.scaleUtc().domain([new Date("2026-03-10T14:30:00Z"),new Date("2026-05-01T12:00:00Z")]).range([R.l,R.r]);
  const y=d3.scaleLinear().domain([-90,90]).range([T2.b,T2.t]);
  const p=panel(R,T2,x,y,tickDates,latTicks,{rotate:true,xFmt:fmtDate});
  p.plot.selectAll("circle").data(latDay).join("circle").attr("cx",d=>x(toDate(d))).attr("cy",(d,i)=>y(latDeg[i])).attr("r",2.3).attr("fill","#000");
  p.finish();
  title("Latitude vs. Time",R,T2);
  yLabel("Latitude (deg)",820,(T2.t+T2.b)/2);
}
// --- altitude ---
{
  const y=d3.scaleLinear().domain([12806,14857]).range([T3.b,T3.t]);
  const p=panel(L,T3,xWide,y,tickDates,altTicks,{rotate:true,xFmt:fmtDate});
  p.plot.selectAll("circle").data(altDay).join("circle").attr("cx",d=>xWide(toDate(d))).attr("cy",(d,i)=>y(altMetres[i])).attr("r",2.1).attr("fill",GREY);
  const line=d3.line().x((d,i)=>xWide(toDate(i))).y(d=>y(d));
  p.plot.append("path").attr("d",line(dailyAlt)).attr("fill","none").attr("stroke",RED).attr("stroke-width",1.7);
  p.finish();
  title("Balloon Altitude vs. Time",L,T3);
  label("UTC date",(L.l+L.r)/2,1177,13.9);
  yLabel("Altitude (m AMSL)",20.5,(T3.t+T3.b)/2);
}
// --- histogram ---
{
  const x=d3.scaleLinear().domain([-100,100]).range([R.l,R.r]);
  const y=d3.scaleLinear().domain([0,260.6]).range([T3.b,T3.t]);
  const p=panel(R,T3,x,y,speedTicks,freqTicks,{});
  const bars=(counts,color)=>p.plot.append("g").selectAll("rect").data(counts.map((c,i)=>({c,i})).filter(d=>d.c>0)).join("rect")
    .attr("x",d=>x(histEdges[d.i])).attr("width",d=>x(histEdges[d.i+1])-x(histEdges[d.i]))
    .attr("y",d=>y(d.c)).attr("height",d=>y(0)-y(d.c)).attr("fill",color).attr("fill-opacity",0.65).attr("stroke","#000").attr("stroke-opacity",0.75).attr("stroke-width",1.1);
  bars(uCounts,BLUE);bars(vCounts,ORANGE);
  p.finish();
  title("U and V Wind Components",R,T3);
  const xl=svg.append("text").attr("x",(R.l+R.r)/2).attr("y",1160).attr("text-anchor","middle").attr("font-size",13.9);
  xl.append("tspan").text("Wind speed (m s");xl.append("tspan").attr("font-size",9.7).attr("dy",-5).text("\u22121");xl.append("tspan").attr("dy",5).text(")");
  yLabel("Frequency",825.5,(T3.t+T3.b)/2);
  legendBox(1430.7,814.3,118.6,34);
  [[BLUE,"U (zonal)",820.5,828],[ORANGE,"V (meridional)",835.5,843]].forEach(d=>{
    svg.append("rect").attr("x",1434.3).attr("y",d[2]).attr("width",22.5).attr("height",7.5).attr("fill",d[0]).attr("fill-opacity",0.65).attr("stroke","#000").attr("stroke-opacity",0.75).attr("stroke-width",1);
    label(d[1],1465,d[3],11.1,{anchor:"start"});
  });
}
</script></body></html>
